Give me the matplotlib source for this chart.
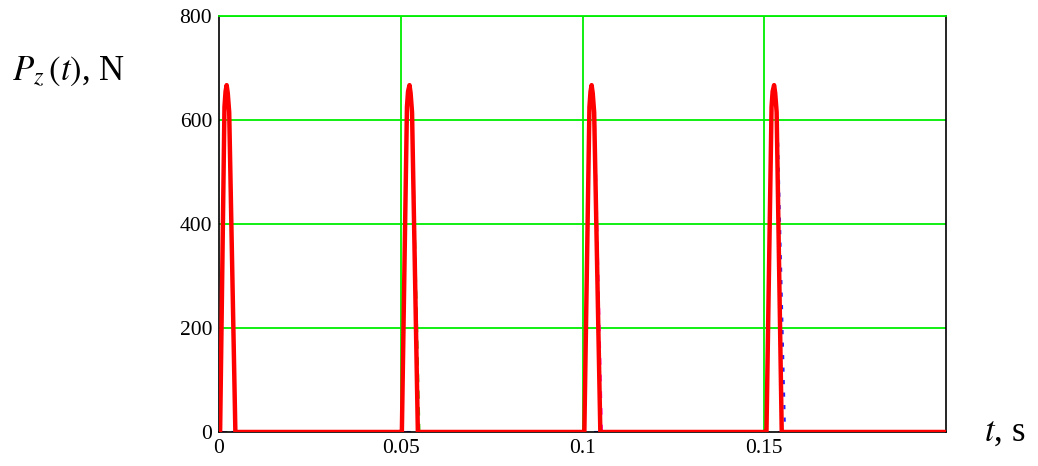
import matplotlib
matplotlib.use("Agg")
import matplotlib.pyplot as plt

plt.rcParams['font.family'] = ['Liberation Serif', 'DejaVu Serif']
plt.rcParams['mathtext.fontset'] = 'stix'

# force pulses (t in s, P in N)
t_red = [0.0, 0.0003, 0.0015, 0.0018, 0.0021, 0.0024, 0.0028, 0.0045,
         0.0500, 0.0503, 0.0517, 0.0520, 0.0524, 0.0527, 0.0531, 0.0547,
         0.1000, 0.1005, 0.1019, 0.1022, 0.1025, 0.1028, 0.1032, 0.1049,
         0.1500, 0.1506, 0.1520, 0.1523, 0.1527, 0.1530, 0.1534, 0.1548,
         0.2]
P_red = [0, 0, 625, 655, 667, 652, 615, 0,
         0, 0, 625, 655, 667, 652, 615, 0,
         0, 0, 625, 655, 667, 652, 615, 0,
         0, 0, 625, 655, 667, 652, 615, 0,
         0]

# series mostly hidden beneath the red curve
t_green = [0.0, 0.0503, 0.0516, 0.0525, 0.0533, 0.0552, 0.2]
P_green = [0, 0, 600, 665, 590, 0, 0]
t_magenta = [0.0, 0.1005, 0.1018, 0.1026, 0.1035, 0.1054, 0.2]
P_magenta = [0, 0, 600, 665, 590, 0, 0]
t_blue = [0.0, 0.1506, 0.1519, 0.1528, 0.1537, 0.1557, 0.2]
P_blue = [0, 0, 600, 665, 590, 0, 0]

x_ticks = [0, 0.05, 0.1, 0.15]
x_labels = ['0', '0.05', '0.1', '0.15']
y_ticks = [0, 200, 400, 600, 800]

fig = plt.figure(figsize=(10.38, 4.66), dpi=100)
ax = fig.add_axes([0.211, 0.073, 0.7004, 0.8927])

grid_col = '#00ee00'
for v in [0.05, 0.1, 0.15]:
    ax.axvline(v, color=grid_col, linewidth=1.3, zorder=1)
for v in [200, 400, 600, 800]:
    ax.axhline(v, color=grid_col, linewidth=1.3, zorder=1)

ax.plot(t_green, P_green, color='#33bb00', linestyle=(0, (5, 5)), linewidth=1.2, zorder=2)
ax.plot(t_magenta, P_magenta, color='#ff00ff', linestyle=(0, (4, 6)), linewidth=1.2, zorder=2)
ax.plot(t_blue, P_blue, color='#2222ff', linestyle=(0, (2, 4)), linewidth=1.5, zorder=2)
ax.plot(t_red, P_red, color='#ff0000', linewidth=3.2, zorder=3, solid_joinstyle='round')

ax.set_xlim(0, 0.2)
ax.set_ylim(0, 800)
ax.set_xticks(x_ticks)
ax.set_xticklabels(x_labels)
ax.set_yticks(y_ticks)
ax.tick_params(length=0, labelsize=15.5, pad=5)
for s in ['left', 'bottom', 'right']:
    ax.spines[s].set_color('black')
    ax.spines[s].set_linewidth(1.2)
ax.spines['top'].set_color(grid_col)
ax.spines['top'].set_linewidth(1.3)

fig.text(0.012, 0.845, r'$P_z\,(t)$, N', fontsize=25, ha='left', va='center')
fig.text(0.948, 0.073, r'$t$, s', fontsize=25, ha='left', va='center')

fig.savefig('out.png', dpi=100)
